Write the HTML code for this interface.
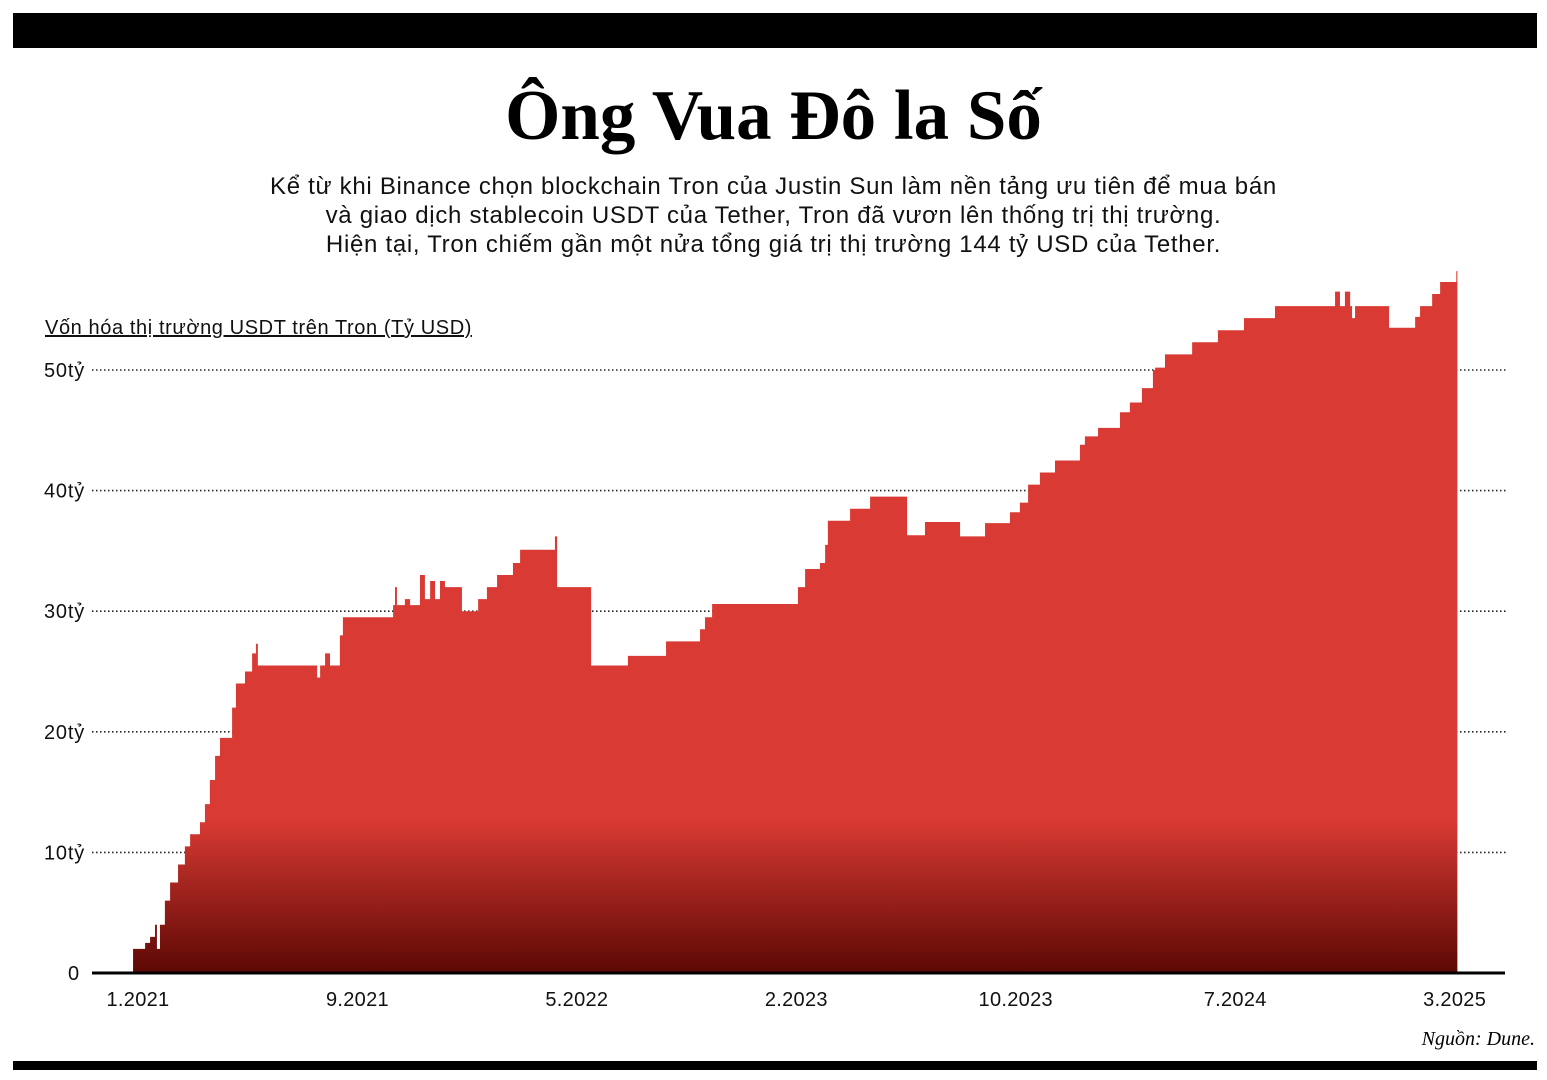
<!DOCTYPE html>
<html><head><meta charset="utf-8">
<style>
body{margin:0;background:#fff;width:1547px;height:1080px;overflow:hidden;position:relative;font-family:"Liberation Sans",sans-serif;}
.bar{position:absolute;background:#000;left:13px;width:1524px;}
#title{position:absolute;top:76px;left:0;width:1547px;text-align:center;font-family:"Liberation Serif",serif;font-weight:bold;font-size:71px;color:#000;}
#sub{position:absolute;top:172px;left:0;width:1547px;text-align:center;font-size:24px;letter-spacing:0.7px;line-height:29px;color:#111;}
#src{position:absolute;top:1028px;right:12px;font-family:"Liberation Serif",serif;font-style:italic;font-size:20px;}
svg{position:absolute;left:0;top:0;}
</style></head><body>
<div class="bar" style="top:13px;height:35px"></div>
<div class="bar" style="top:1061px;height:9px"></div>
<div id="title">Ông Vua Đô la Số</div>
<div id="sub">Kể từ khi Binance chọn blockchain Tron của Justin Sun làm nền tảng ưu tiên để mua bán<br>và giao dịch stablecoin USDT của Tether, Tron đã vươn lên thống trị thị trường.<br>Hiện tại, Tron chiếm gần một nửa tổng giá trị thị trường 144 tỷ USD của Tether.</div>
<div id="src">Nguồn: Dune.</div>
<svg id="chart" width="1547" height="1080">
<defs><linearGradient id="g" gradientUnits="userSpaceOnUse" x1="0" y1="820" x2="0" y2="973">
<stop offset="0" stop-color="#d93a33"/><stop offset="1" stop-color="#5c0804"/></linearGradient></defs>
</svg>
<script>
const months=[-0.29,-0.18,0.26,0.44,0.62,0.69,0.8,0.98,1.17,1.46,1.71,1.9,2.26,2.44,2.62,2.81,2.99,3.43,3.57,3.9,4.16,4.3,4.37,6.45,6.53,6.64,6.82,7.0,7.36,7.47,9.19,9.3,9.37,9.44,9.73,9.92,10.28,10.46,10.65,10.83,11.01,11.19,11.74,11.81,12.29,12.4,12.72,13.09,13.67,13.93,15.13,15.2,15.28,16.48,16.52,17.83,17.86,19.21,19.25,20.38,20.49,20.67,20.93,23.95,24.06,24.32,24.86,25.05,25.15,25.88,25.96,26.61,26.69,27.96,28.04,28.62,28.69,29.89,29.97,30.81,30.88,31.72,31.79,32.15,32.45,32.88,33.43,34.16,34.34,34.52,35.0,35.73,35.8,36.16,36.6,37.0,37.08,37.44,38.35,38.43,39.34,39.37,40.28,40.32,41.38,41.45,43.57,43.64,43.82,44.0,44.19,44.26,44.37,45.53,45.61,46.48,46.56,46.74,47.18,47.47,48.02,48.06,48.1];
const values=[0,2,2.5,3,4,2,4,6,7.5,9,10.5,11.5,12.5,14,16,18,19.5,22,24,25,26.5,27.3,25.5,25.5,24.5,25.5,26.5,25.5,28,29.5,29.5,30.5,32,30.5,31,30.5,33,31,32.5,31,32.5,32,32,30,30,31,32,33,34,35.1,35.1,36.2,32,32,25.5,25.5,26.3,26.3,27.5,27.5,28.5,29.5,30.6,30.6,32,33.5,34,35.5,37.5,37.5,38.5,38.5,39.5,39.5,36.3,36.3,37.4,37.4,36.2,36.2,37.3,37.3,38.2,39,40.5,41.5,42.5,42.5,43.8,44.5,45.2,45.2,46.5,47.3,48.5,50,50.2,51.3,51.3,52.3,52.3,53.3,53.3,54.3,54.3,55.3,55.3,56.5,55.3,56.5,55.3,54.3,55.3,55.3,53.5,53.5,54.4,55.3,56.3,57.3,57.3,58.2,58.2];
const yTicks=[0,10,20,30,40,50];
const yTickLabels=["0","10tỷ","20tỷ","30tỷ","40tỷ","50tỷ"];
const xTickMonths=[0,8,16,24,32,40,48];
const xTickLabels=["1.2021","9.2021","5.2022","2.2023","10.2023","7.2024","3.2025"];
const NS="http://www.w3.org/2000/svg";
const svg=document.getElementById('chart');
const X=m=>138+m*27.43;
const Y=v=>973-v*12.06;
function mk(t,a){const e=document.createElementNS(NS,t);for(const k in a)e.setAttribute(k,a[k]);svg.appendChild(e);return e;}
yTicks.forEach((v,i)=>{
 if(v>0){const l=mk('line',{x1:92,x2:1507,y1:Y(v),y2:Y(v),stroke:'#222','stroke-width':1.6,'stroke-dasharray':'1.5,2.5'});
 
 }
 const t=mk('text',{x:v==0?68:44,y:Y(v)+7,'font-size':20,'letter-spacing':'0.8',fill:'#111','font-family':'Liberation Sans, sans-serif'});
 t.textContent=yTickLabels[i];
 
 
});
let d='M'+X(months[0])+','+Y(0);
for(let i=0;i<months.length;i++){
 if(i>0)d+=' L'+X(months[i])+','+Y(values[i-1]);
 d+=' L'+X(months[i])+','+Y(values[i]);
}
d+=' L'+X(months[months.length-1])+','+Y(0)+' Z';
const p=mk('path',{d:d,fill:'url(#g)'});


const base=mk('line',{x1:92,x2:1505,y1:973,y2:973,stroke:'#000','stroke-width':3});


xTickMonths.forEach((m,i)=>{
 const t=mk('text',{x:X(m),y:1006,'font-size':20,'letter-spacing':'0.3','text-anchor':'middle',fill:'#111','font-family':'Liberation Sans, sans-serif'});
 t.textContent=xTickLabels[i];
 
 
});
const at=mk('text',{x:45,y:334,'font-size':20,'letter-spacing':'0.6',fill:'#111','text-decoration':'underline','font-family':'Liberation Sans, sans-serif'});
at.textContent='Vốn hóa thị trường USDT trên Tron (Tỷ USD)';


</script>
</body></html>
